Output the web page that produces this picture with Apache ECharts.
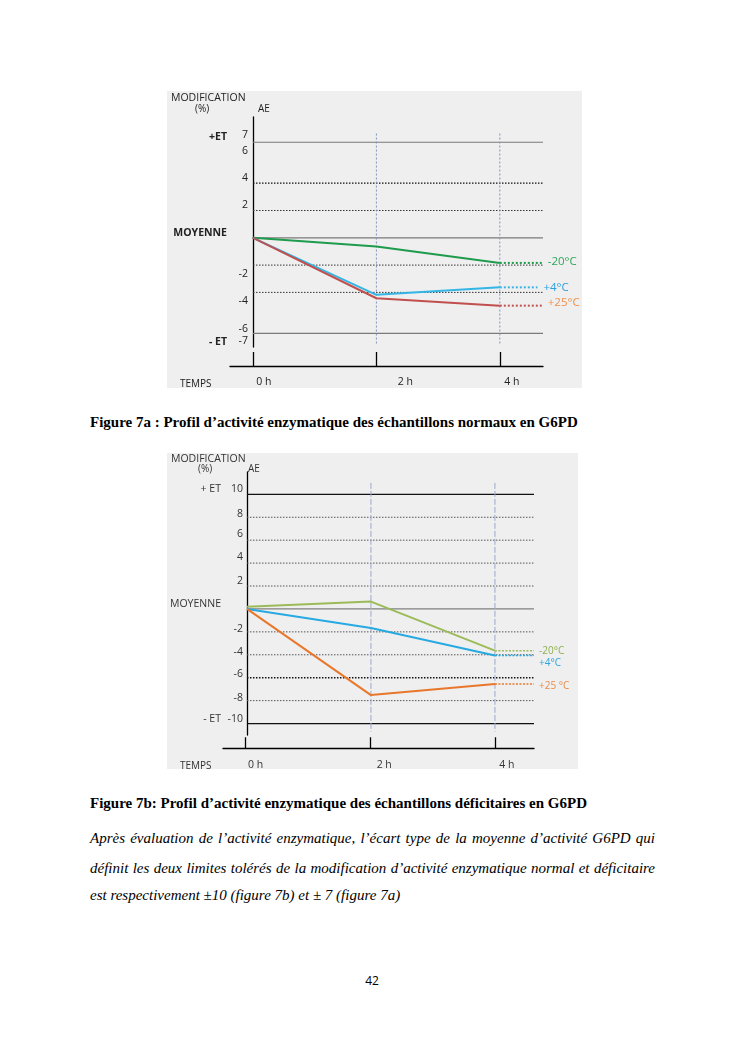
<!DOCTYPE html>
<html><head><meta charset="utf-8">
<script src="https://cdn.jsdelivr.net/npm/echarts@6/dist/echarts.min.js"></script>
<style>
html,body{margin:0;padding:0;background:#fff;width:745px;height:1053px;overflow:hidden;}
#page{position:relative;width:745px;height:1053px;}
.chart{position:absolute;background:#efefef;}
#c1{left:167px;top:91px;width:415px;height:297px;}
#c2{left:167px;top:453px;width:411px;height:316px;}
.cap{position:absolute;left:90px;font-family:'Liberation Serif','Times New Roman',serif;font-weight:bold;font-size:15px;color:#000;white-space:nowrap;line-height:18px;}
.para{position:absolute;left:90px;width:565px;font-family:'Liberation Serif','Times New Roman',serif;font-style:italic;font-size:15px;line-height:18px;color:#000;white-space:nowrap;}
.j{text-align:justify;text-align-last:justify;white-space:normal;}
.num{position:absolute;left:352px;width:40px;text-align:center;top:973px;font-family:'Open Sans',sans-serif;font-size:12px;line-height:16px;color:#000;}
</style></head>
<body><div id="page">
<div id="c1" class="chart"></div>
<div class="cap" style="top:413px;">Figure 7a : Profil d’activité enzymatique des échantillons normaux en G6PD</div>
<div id="c2" class="chart"></div>
<div class="cap" style="top:794px;">Figure 7b: Profil d’activité enzymatique des échantillons déficitaires en G6PD</div>
<div class="para j" style="top:829px;">Après évaluation de l’activité enzymatique, l’écart type de la moyenne d’activité G6PD qui</div>
<div class="para j" style="top:859px;">définit les deux limites tolérés de la modification d’activité enzymatique normal et déficitaire</div>
<div class="para" style="top:886px;">est respectivement ±10 (figure 7b) et ± 7 (figure 7a)</div>
<div class="num">42</div>
</div>
<script>
// ---------- shared ----------
const hours = [0, 2, 4];
const timeLabels = ['0 h', '2 h', '4 h'];

// ---------- Figure 7a ----------
const a_names = ['-20°C', '+4°C', '+25°C'];
const a_m20 = [0, -0.64, -1.84];
const a_p4 = [0, -4.18, -3.63];
const a_p25 = [0, -4.43, -4.97];
const a_tickLabels = [7, 6, 4, 2, -2, -4, -6, -7];
const a_refValues = [7, 0, -7];
const a_refLabels = ['+ET', 'MOYENNE', '- ET'];
const a_dotted = [4, 2, -2, -4];

// ---------- Figure 7b ----------
const b_names = ['-20°C', '+4°C', '+25 °C'];
const b_m20 = [0.2, 0.64, -3.64];
const b_p4 = [0, -1.66, -4.07];
const b_p25 = [0, -7.52, -6.54];
const b_tickLabels = [10, 8, 6, 4, 2, -2, -4, -6, -8, -10];
const b_refValues = [10, 0, -10];
const b_refLabels = ['+ ET', 'MOYENNE', '- ET'];
const b_dotted = [8, 6, 4, 2, -2, -4, -6, -8];

const FONT = "'Open Sans', sans-serif";

function vRich(shifts, base) {
  const rich = {};
  shifts.forEach((s, i) => {
    rich['r' + i] = Object.assign({}, base, { padding: s >= 0 ? [2 * s, 0, 0, 0] : [0, 0, -2 * s, 0] });
  });
  return rich;
}
function hRich(shifts, down, base) {
  const rich = {};
  shifts.forEach((s, i) => {
    rich['r' + i] = Object.assign({}, base, { padding: s >= 0 ? [down, 0, 0, 2 * s] : [down, -2 * s, 0, 0] });
  });
  return rich;
}
function hline(y, x0, x1, style) {
  return { type: 'line', xAxisIndex: 0, yAxisIndex: 0, data: [[x0, y], [x1, y]], symbol: 'none',
    silent: true, clip: false, lineStyle: style, z: 1 };
}

function buildOption(c) {
  const series = [];
  c.solid.forEach(s => series.push(hline(s.v, s.x0, c.xMax, s.style)));
  c.dotted.forEach(v => series.push(hline(v, 0, c.xMax, c.dottedStyle(v))));
  if (c.stub) series.push(hline(c.stub.v, c.stub.x0, c.stub.x1, c.stub.style));
  [2, 4].forEach(h => series.push({ type: 'line', data: [[h, c.guide[0]], [h, c.guide[1]]], symbol: 'none',
    silent: true, clip: false, lineStyle: c.guideStyle, z: 1 }));
  c.data.forEach((arr, i) => {
    series.push({ type: 'line', name: c.names[i], data: hours.map((h, k) => [h, arr[k]]), symbol: 'none',
      lineStyle: { color: c.colors[i], width: 2 }, z: 5 });
    series.push({ type: 'line', data: [[4, arr[2]], [c.extEnd[i], arr[2]]], symbol: 'none', clip: false,
      lineStyle: { color: c.colors[i], width: c.extWidth, type: c.extType }, z: 4,
      endLabel: { show: true, formatter: c.names[i], color: c.labelColors[i], fontSize: c.endSize, fontFamily: FONT,
        distance: c.labelDist, offset: c.labelOffsets[i] } });
  });
  const baseTxt = { fontSize: c.txtSize, fontFamily: FONT, color: c.txtColor };
  const refTxt = Object.assign({}, baseTxt, { fontWeight: c.refBold ? 'bold' : 'normal', fontSize: c.refSize });
  return {
    animation: false,
    grid: [
      { left: c.grid.left, top: c.grid.top, right: c.grid.right, height: c.grid.height },
      { left: c.tgrid.left, top: c.tgrid.top, right: c.tgrid.right, height: c.tgrid.height }
    ],
    xAxis: [
      { type: 'value', gridIndex: 0, min: 0, max: c.xMax, show: false },
      { type: 'value', gridIndex: 1, min: c.tMin, max: c.xMax, position: 'bottom',
        axisLine: { show: true, lineStyle: { color: '#000', width: 1.3 } },
        axisTick: { show: true, inside: true, length: c.tickLen, customValues: hours, lineStyle: { color: '#000', width: 1.3 } },
        axisLabel: { show: true, customValues: hours, margin: 2,
          formatter: v => { const i = hours.indexOf(v); return i < 0 ? '' : '{r' + i + '|' + timeLabels[i] + '}'; },
          rich: hRich(c.tShift, c.tDown, baseTxt) },
        splitLine: { show: false } }
    ],
    yAxis: [
      { type: 'value', gridIndex: 0, min: c.yMin, max: c.yMax, interval: 1,
        axisLine: { show: true, lineStyle: { color: '#000', width: 1.3 } }, axisTick: { show: false },
        splitLine: { show: false },
        axisLabel: { margin: c.labelMargin,
          formatter: v => { const i = c.ticks.indexOf(v); return i < 0 ? '' : '{r' + i + '|' + v + '}'; },
          rich: vRich(c.tickShift, baseTxt) } },
      { type: 'value', gridIndex: 0, min: c.yMin, max: c.yMax, interval: 1, position: 'left', offset: c.refOffset,
        axisLine: { show: false }, axisTick: { show: false }, splitLine: { show: false },
        axisLabel: { margin: 4,
          formatter: v => { const i = c.refValues.indexOf(v); return i < 0 ? '' : '{r' + i + '|' + c.refLabels[i] + '}'; },
          rich: vRich(c.refShift, refTxt) } },
      { type: 'value', gridIndex: 1, show: false, min: 0, max: 1 }
    ],
    graphic: c.graphic.map(g => ({ type: 'text', left: g.x, top: g.y, silent: true,
      style: { text: g.t, fontSize: g.s || 10, fontFamily: FONT, fill: c.txtColor, fontWeight: g.b ? 'bold' : 'normal' } })),
    series
  };
}

// ---------- Chart 1 ----------
const opt1 = buildOption({
  xMax: 4.7, yMin: -8, yMax: 8.85,
  grid: { left: 86, top: 26, right: 39, height: 230 },
  tgrid: { left: 63, top: 270, right: 39, height: 13 },
  tMin: -0.372, tickLen: 14, tDown: 9, tShift: [11, 29, 12],
  ticks: a_tickLabels, tickShift: [-7, -5, -5, -5, 9, 9, 9, 8], labelMargin: 5,
  refValues: a_refValues, refLabels: a_refLabels, refShift: [-5, -5, 9], refOffset: 22, refBold: true, refSize: 10.5,
  txtColor: '#222', txtSize: 10.5, endSize: 11.5,
  solid: [
    { v: 7, x0: 0, style: { color: '#7a7a7a', width: 1.2 } },
    { v: 0, x0: -0.372, style: { color: '#7a7a7a', width: 1.2 } },
    { v: -7, x0: 0, style: { color: '#7a7a7a', width: 1.2 } }
  ],
  stub: { v: 7, x0: -0.372, x1: -0.08, style: { color: '#ffffff', width: 2 } },
  dotted: a_dotted,
  dottedStyle: v => ({ color: v === 4 ? '#111' : '#333', width: v === 4 ? 1.3 : 1, type: [1.5, 1.5] }),
  guide: [7.64, -7.86], guideStyle: { color: '#7f93c2', width: 1, type: [2, 2] },
  data: [a_m20, a_p4, a_p25], names: a_names,
  colors: ['#1e9b4c', '#33b6e6', '#c0504d'], labelColors: ['#2fa65a', '#2b9fdf', '#f0904c'],
  extEnd: [4.68, 4.61, 4.68], extWidth: 2, extType: [2, 2], labelDist: 6,
  labelOffsets: [[0, -1], [0, 0], [0, -3]],
  graphic: [
    { x: 4, y: 2, t: 'MODIFICATION', s: 10.5 },
    { x: 28, y: 13, t: '(%)', s: 10 },
    { x: 91, y: 13, t: 'AE', s: 10 },
    { x: 13, y: 288, t: 'TEMPS', s: 10 }
  ]
});

// ---------- Chart 2 ----------
const opt2 = buildOption({
  xMax: 4.63, yMin: -11, yMax: 11.95,
  grid: { left: 79, top: 19, right: 44, height: 263 },
  tgrid: { left: 56, top: 292, right: 44, height: 13 },
  tMin: -0.364, tickLen: 11, tDown: 9, tShift: [10, 14, 12],
  ticks: b_tickLabels, tickShift: [-5, -3, -6, -6, -5, -3, -3, -4, -3, -5], labelMargin: 4,
  refValues: b_refValues, refLabels: b_refLabels, refShift: [-5, -5, -5], refOffset: 22, refBold: false, refSize: 10.5,
  txtColor: '#333', txtSize: 10.5, endSize: 10,
  solid: [
    { v: 10, x0: 0, style: { color: '#111', width: 1.3 } },
    { v: 0, x0: 0, style: { color: '#808080', width: 1.2 } },
    { v: -10, x0: 0, style: { color: '#111', width: 1.3 } }
  ],
  dotted: b_dotted,
  dottedStyle: v => ({ color: v === -6 ? '#111' : '#555', width: v === -6 ? 1.4 : 1, type: [1.5, 1.5] }),
  guide: [11, -10.7], guideStyle: { color: '#9aaacb', width: 1, type: [6, 2] },
  data: [b_m20, b_p4, b_p25], names: b_names,
  colors: ['#9bbb59', '#27a9e1', '#e8772b'], labelColors: ['#8fb04f', '#2aa6e0', '#ec8a45'],
  extEnd: [4.63, 4.63, 4.63], extWidth: 1.5, extType: [2, 1.5], labelDist: 5,
  labelOffsets: [[0, 0], [0, 8], [0, 2]],
  graphic: [
    { x: 4, y: 1, t: 'MODIFICATION', s: 10.5 },
    { x: 31, y: 11, t: '(%)', s: 10 },
    { x: 81, y: 11, t: 'AE', s: 10 },
    { x: 13, y: 308, t: 'TEMPS', s: 10 }
  ]
});

echarts.init(document.getElementById('c1'), null, { renderer: 'canvas' }).setOption(opt1);
echarts.init(document.getElementById('c2'), null, { renderer: 'canvas' }).setOption(opt2);
</script>
</body></html>
